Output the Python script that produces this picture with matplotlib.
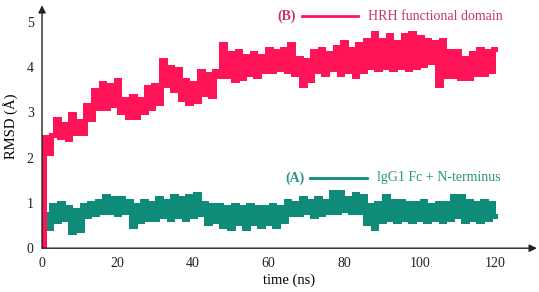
import numpy as np
import matplotlib.pyplot as plt

time_ns = list(range(0, 121))

rmsd_hrh = [
    0.0, 2.45, 2.1, 2.5, 2.85, 2.45, 2.75, 2.4, 2.95, 2.55,
    2.8, 2.55, 3.15, 2.85, 3.5, 3.1, 3.65, 3.1, 3.6, 3.15,
    3.7, 3.0, 3.3, 2.9, 3.35, 2.9, 3.3, 3.0, 3.55, 3.1,
    3.6, 3.2, 4.15, 3.6, 4.0, 3.5, 3.95, 3.3, 3.7, 3.2,
    3.65, 3.25, 3.9, 3.4, 3.85, 3.35, 3.9, 3.8, 4.5, 3.8,
    4.3, 3.7, 4.35, 3.75, 4.25, 3.85, 4.3, 3.8, 4.25, 3.9,
    4.4, 3.9, 4.35, 3.95, 4.4, 3.9, 4.5, 3.85, 4.2, 3.6,
    4.15, 3.7, 4.35, 3.9, 4.4, 3.85, 4.3, 3.95, 4.45, 3.85,
    4.55, 3.9, 4.4, 3.8, 4.5, 3.9, 4.6, 4.0, 4.75, 3.95,
    4.6, 4.0, 4.7, 3.95, 4.55, 4.0, 4.7, 3.95, 4.75, 4.0,
    4.65, 4.05, 4.6, 4.1, 4.55, 3.6, 4.6, 3.8, 4.35, 3.8,
    4.35, 3.75, 4.2, 3.75, 4.3, 3.85, 4.4, 3.85, 4.35, 3.9,
    4.4,
]

rmsd_igg = [
    0.0, 0.75, 0.45, 0.95, 0.6, 1.0, 0.65, 0.9, 0.35, 0.85,
    0.4, 0.95, 0.7, 1.0, 0.75, 1.05, 0.8, 1.15, 0.8, 1.1,
    0.75, 1.1, 0.8, 1.05, 0.5, 0.95, 0.6, 1.05, 0.65, 1.0,
    0.65, 1.1, 0.7, 1.05, 0.65, 1.15, 0.7, 1.1, 0.65, 1.15,
    0.7, 1.2, 0.75, 1.0, 0.55, 0.95, 0.6, 0.95, 0.5, 0.9,
    0.45, 0.95, 0.55, 0.9, 0.45, 0.95, 0.55, 0.9, 0.5, 0.9,
    0.55, 0.95, 0.5, 0.9, 0.6, 1.05, 0.75, 1.0, 0.75, 1.1,
    0.8, 1.05, 0.7, 1.1, 0.75, 1.05, 0.8, 1.25, 0.8, 1.25,
    0.85, 1.1, 0.8, 1.2, 0.8, 1.15, 0.55, 0.95, 0.45, 1.0,
    0.6, 1.15, 0.65, 1.05, 0.6, 1.05, 0.65, 1.0, 0.6, 1.0,
    0.65, 1.05, 0.6, 0.95, 0.65, 1.0, 0.6, 1.0, 0.65, 1.15,
    0.7, 1.15, 0.6, 1.05, 0.65, 1.0, 0.6, 1.05, 0.65, 1.0,
    0.7,
]

x_ticks = [0, 20, 40, 60, 80, 100, 120]
y_ticks = [0, 1, 2, 3, 4, 5]

# --- Style ---
COL_HRH = '#FF1557'
COL_HRH_TXT = '#C93468'
COL_IGG = '#0E8C79'
COL_IGG_TXT = '#2B9582'
COL_AXIS = '#222222'

plt.rcParams['font.family'] = ['Liberation Serif', 'DejaVu Serif']

fig = plt.figure(figsize=(5.39, 2.92), dpi=100)
ax = fig.add_axes([0.078, 0.150, 0.918, 0.832])

ax.plot(time_ns, rmsd_igg, color=COL_IGG, linewidth=3.6, drawstyle='steps-mid',
        solid_joinstyle='miter')
ax.plot(time_ns, rmsd_hrh, color=COL_HRH, linewidth=3.6, drawstyle='steps-mid',
        solid_joinstyle='miter')

ax.set_xlim(0, 131)
ax.set_ylim(0, 5.36)

for s in ax.spines.values():
    s.set_visible(False)

# axes with arrow heads
ax.annotate('', xy=(1, 0), xytext=(0, 0), xycoords='axes fraction',
            arrowprops=dict(arrowstyle='-|>', color=COL_AXIS, lw=1.0,
                            mutation_scale=11, shrinkA=0, shrinkB=0))
ax.annotate('', xy=(0, 1), xytext=(0, 0), xycoords='axes fraction',
            arrowprops=dict(arrowstyle='-|>', color=COL_AXIS, lw=1.0,
                            mutation_scale=11, shrinkA=0, shrinkB=0))

ax.set_xticks(x_ticks)
ax.set_yticks(y_ticks)
ax.tick_params(length=0, labelsize=10, pad=6, colors='#222222')
ax.set_xlabel('time (ns)', fontsize=10.5, labelpad=3)
ax.set_ylabel('RMSD (Å)', fontsize=10.5, labelpad=6)

# hand-drawn style legends
fig.text(287 / 539, 1 - 16 / 292, '(B)', color=COL_HRH_TXT, fontsize=10,
         fontweight='bold', ha='center', va='center')
fig.add_artist(plt.Line2D([302 / 539, 358 / 539], [1 - 16 / 292, 1 - 16 / 292],
                          color=COL_HRH, lw=2))
fig.text(368 / 539, 1 - 16 / 292, 'HRH functional domain', color=COL_HRH_TXT,
         fontsize=10, ha='left', va='center')

fig.text(295 / 539, 1 - 178 / 292, '(A)', color=COL_IGG_TXT, fontsize=10,
         fontweight='bold', ha='center', va='center')
fig.add_artist(plt.Line2D([310 / 539, 367 / 539], [1 - 178 / 292, 1 - 178 / 292],
                          color=COL_IGG, lw=2))
fig.text(377 / 539, 1 - 178 / 292, 'lgG1 Fc + N-terminus', color=COL_IGG_TXT,
         fontsize=10, ha='left', va='center')

fig.savefig('out.png', dpi=100, facecolor='white')
